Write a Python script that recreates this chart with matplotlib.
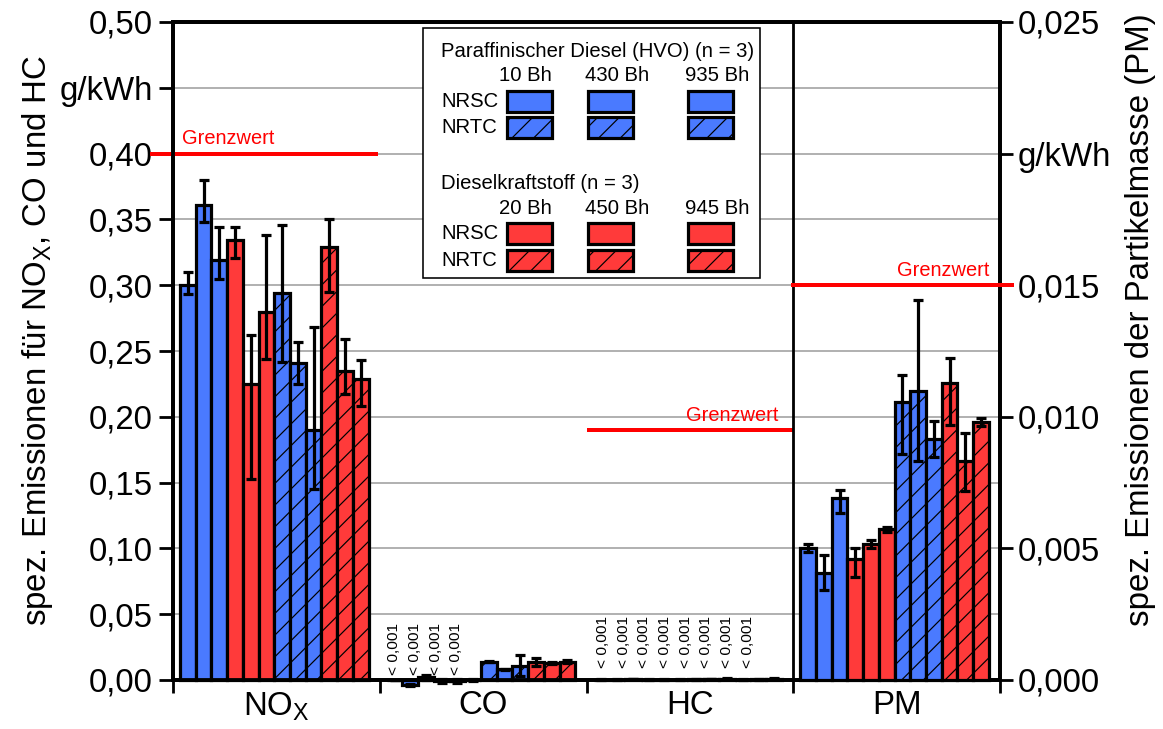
import numpy as np
import matplotlib.pyplot as plt
from matplotlib.patches import Rectangle

DPI = 130


def pt(px):
    # pixel -> point at the chosen dpi
    return px * 72.0 / DPI


plt.rcParams.update({
    "font.family": ["Liberation Sans", "DejaVu Sans"],
    "hatch.linewidth": pt(1.2),
})

BLUE = "#4a7aff"
RED = "#ff3a3a"
LIMIT = "#ff0000"

categories = ["NO$_\\mathregular{X}$", "CO", "HC", "PM"]

# bar order per group:
# HVO NRSC 10/430/935 Bh, Diesel NRSC 20/450/945 Bh,
# HVO NRTC 10/430/935 Bh, Diesel NRTC 20/450/945 Bh
nox = [0.300, 0.361, 0.319, 0.334, 0.225, 0.280, 0.294, 0.241, 0.190, 0.329, 0.235, 0.229]
nox_lo = [0.007, 0.013, 0.014, 0.013, 0.072, 0.036, 0.052, 0.016, 0.045, 0.034, 0.018, 0.021]
nox_hi = [0.010, 0.019, 0.025, 0.010, 0.037, 0.058, 0.052, 0.016, 0.078, 0.021, 0.024, 0.014]

co = [0.0, -0.004, 0.002, -0.001, -0.001, 0.0, 0.014, 0.008, 0.011, 0.014, 0.013, 0.014]
co_lo = [0.0, 0.0008, 0.002, 0.0015, 0.0015, 0.0004, 0.0005, 0.0005, 0.008, 0.003, 0.001, 0.001]
co_hi = [0.0, 0.0008, 0.002, 0.0015, 0.0015, 0.0004, 0.0005, 0.0005, 0.008, 0.003, 0.001, 0.001]

hc = [0.0002, 0.0001, 0.0008, 0.0002, 0.0001, 0.0003, 0.0004, 0.0008, 0.0010, 0.0003, 0.0006, 0.0009]
hc_err = [0.0003] * 12

pm = [0.00503, 0.00408, 0.0069, 0.00459, 0.00517, 0.00573,
      0.01055, 0.01098, 0.00915, 0.0113, 0.00832, 0.00981]
pm_lo = [0.00017, 0.00066, 0.00055, 0.00069, 0.00017, 0.0001,
         0.00197, 0.00265, 0.00069, 0.00163, 0.00114, 0.00015]
pm_hi = [0.00015, 0.00067, 0.00032, 0.00044, 0.00016, 0.0001,
         0.00102, 0.00347, 0.00069, 0.00092, 0.00106, 0.00013]

limit_nox = 0.40
limit_hc = 0.19
limit_pm = 0.015

n_below_co = 4   # "< 0,001" markers
n_below_hc = 8

left_ticks = [0.0, 0.05, 0.10, 0.15, 0.20, 0.25, 0.30, 0.35, 0.40, 0.45, 0.50]
left_labels = ["0,00", "0,05", "0,10", "0,15", "0,20", "0,25", "0,30", "0,35", "0,40", "g/kWh", "0,50"]
right_ticks = [0.0, 0.005, 0.010, 0.015, 0.020, 0.025]
right_labels = ["0,000", "0,005", "0,010", "0,015", "g/kWh", "0,025"]

hvo_hours = ["10 Bh", "430 Bh", "935 Bh"]
diesel_hours = ["20 Bh", "450 Bh", "945 Bh"]

colors = [BLUE] * 3 + [RED] * 3 + [BLUE] * 3 + [RED] * 3
hatches = [""] * 6 + ["//"] * 6

W = 0.076
SHIFT = -0.01
LW = pt(3.2)


def bar_x(g):
    return g + SHIFT + (np.arange(12) - 5.5) * W


def draw_group(axis, g, vals, lo, hi):
    x = bar_x(g)
    for xi, v, c, h in zip(x, vals, colors, hatches):
        axis.bar(xi, v, W, color=c, edgecolor="black", linewidth=LW,
                 hatch=h, zorder=3, clip_on=False)
    axis.errorbar(x, vals, yerr=[lo, hi], fmt="none", ecolor="black",
                  elinewidth=LW, capsize=pt(5), capthick=LW, zorder=4, clip_on=False)


fig = plt.figure(figsize=(1163 / DPI, 729 / DPI), dpi=DPI)
ax = fig.add_axes([173 / 1163, 1 - 680 / 729, 827 / 1163, 658 / 729])
ax2 = ax.twinx()

ax.set_xlim(-0.5, 3.5)
ax.set_ylim(0, 0.5)
ax2.set_ylim(0, 0.025)

draw_group(ax, 0, nox, nox_lo, nox_hi)
draw_group(ax, 1, co, co_lo, co_hi)
draw_group(ax, 2, hc, hc_err, hc_err)
draw_group(ax2, 3, pm, pm_lo, pm_hi)

# "< 0,001" markers
for k in range(n_below_co):
    ax.text(0.5 + 0.07 + 0.1 * k, 0.004, "< 0,001", rotation=90, ha="center",
            va="bottom", fontsize=pt(15.5), zorder=5)
for k in range(n_below_hc):
    ax.text(1.5 + 0.08 + 0.1 * k, 0.009, "< 0,001", rotation=90, ha="center",
            va="bottom", fontsize=pt(15.5), zorder=5)

# limit lines
ax.plot([-0.6, 0.48], [limit_nox, limit_nox], color=LIMIT, lw=pt(4), clip_on=False, zorder=5)
ax.text(-0.455, limit_nox + 0.007, "Grenzwert", color=LIMIT, fontsize=pt(20), va="baseline")
ax.plot([1.51, 2.49], [limit_hc, limit_hc], color=LIMIT, lw=pt(4), zorder=5)
ax.text(2.43, limit_hc + 0.007, "Grenzwert", color=LIMIT, fontsize=pt(20), va="baseline", ha="right")
ax2.plot([2.5, 3.56], [limit_pm, limit_pm], color=LIMIT, lw=pt(4), clip_on=False, zorder=5)
ax2.text(3.45, limit_pm + 0.00035, "Grenzwert", color=LIMIT, fontsize=pt(20), va="baseline", ha="right")

ax.axvline(2.5, color="black", lw=pt(2.8), zorder=6)

# axes styling
for a in (ax, ax2):
    for s in a.spines.values():
        s.set_linewidth(pt(3.8))
        s.set_color("black")

ax.set_yticks(left_ticks)
ax.set_yticklabels(left_labels)
ax2.set_yticks(right_ticks)
ax2.set_yticklabels(right_labels)
ax.tick_params(axis="y", direction="out", length=pt(14), width=pt(2.8),
               labelsize=pt(33), pad=pt(6))
ax2.tick_params(axis="y", direction="out", length=pt(13), width=pt(2.8),
                labelsize=pt(33), pad=pt(5))

ax.set_xticks([-0.5, 0.5, 1.5, 2.5, 3.5])
ax.set_xticklabels([])
ax.set_xticks([0, 1, 2, 3], minor=True)
ax.set_xticklabels(categories, minor=True)
ax.tick_params(axis="x", which="major", direction="out", length=pt(13), width=pt(2.8))
ax.tick_params(axis="x", which="minor", length=0, labelsize=pt(33), pad=pt(10))

ax.yaxis.grid(True, color="#a0a0a0", lw=pt(1.6))
ax.set_axisbelow(True)

fig.text(38 / 1163, 1 - 340 / 729, "spez. Emissionen für NO$_\\mathregular{X}$, CO und HC",
         rotation=90, ha="center", va="center", fontsize=pt(33))
fig.text(1141 / 1163, 1 - 320 / 729, "spez. Emissionen der Partikelmasse (PM)",
         rotation=90, ha="center", va="center", fontsize=pt(33))

# legend drawn by hand
tr = ax2.transAxes
ax2.add_patch(Rectangle((0.3023, 0.611), 0.4075, 0.3799, transform=tr, facecolor="white",
                        edgecolor="black", lw=pt(1.6), zorder=10))
lfs = pt(20.3)
patch_x = [0.4039, 0.5018, 0.6227]
hour_x = [0.4256, 0.5369, 0.6578]
PW, PH = 0.0544, 0.0319


def legend_block(title, hours, col, y_title, y_hours, y_sc, y_tc):
    ax2.text(0.324, y_title, title, transform=tr, fontsize=lfs, va="center", zorder=11)
    for hx, h in zip(hour_x, hours):
        ax2.text(hx, y_hours, h, transform=tr, fontsize=lfs, va="center", ha="center", zorder=11)
    ax2.text(0.324, y_sc + PH / 2, "NRSC", transform=tr, fontsize=lfs, va="center", zorder=11)
    ax2.text(0.324, y_tc + PH / 2, "NRTC", transform=tr, fontsize=lfs, va="center", zorder=11)
    for px_ in patch_x:
        ax2.add_patch(Rectangle((px_, y_sc), PW, PH, transform=tr, facecolor=col,
                                edgecolor="black", lw=LW, zorder=11))
        ax2.add_patch(Rectangle((px_, y_tc), PW, PH, transform=tr, facecolor=col,
                                edgecolor="black", lw=LW, hatch="//", zorder=11))


legend_block("Paraffinischer Diesel (HVO) (n = 3)", hvo_hours, BLUE, 0.955, 0.919, 0.863, 0.824)
legend_block("Dieselkraftstoff (n = 3)", diesel_hours, RED, 0.7553, 0.7173, 0.6626, 0.6216)

fig.savefig("out.png", dpi=DPI)
